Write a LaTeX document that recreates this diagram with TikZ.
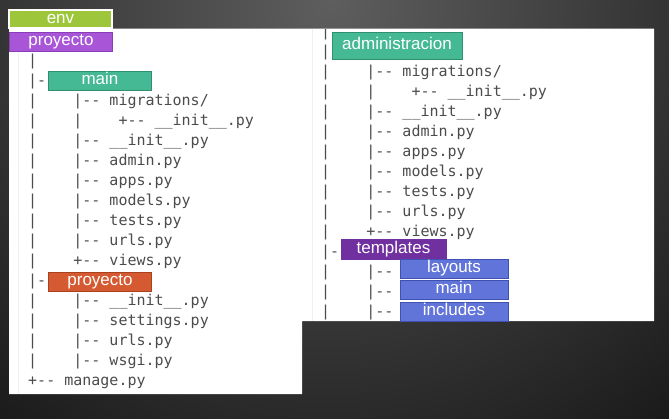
\documentclass[tikz,border=0pt]{standalone}
\usepackage{fontspec}
\setmainfont{Liberation Sans}
\setmonofont{DejaVu Sans Mono}

\definecolor{bgglow}{HTML}{5E5E5E}
\definecolor{bgdark}{HTML}{141414}
\definecolor{treegray}{HTML}{4C4C4C}
\definecolor{envgreen}{HTML}{9DC63B}
\definecolor{lilac}{HTML}{A855D8}
\definecolor{lilacdark}{HTML}{8A3DB8}
\definecolor{teal}{HTML}{45B994}
\definecolor{tealdark}{HTML}{2F9070}
\definecolor{rust}{HTML}{D65A31}
\definecolor{rustdark}{HTML}{A8421F}
\definecolor{grape}{HTML}{7030A0}
\definecolor{blueish}{HTML}{6174D9}
\definecolor{bluedark}{HTML}{3F52B2}

\tikzset{
  tag/.style={inner sep=0pt, text=white, font=\fontsize{17}{17}\selectfont,
    text height=12.3pt, text depth=3.5pt, line width=0.8pt},
  treeline/.style={anchor=west, inner sep=0pt, text=treegray,
    font=\ttfamily\fontsize{15}{15}\selectfont, text height=13pt, text depth=3pt}
}

\begin{document}
\begin{tikzpicture}[x=1pt, y=-1pt]
  \useasboundingbox (0,0) rectangle (669,418);
  % 背景
  \begin{scope}
    \clip (0,0) rectangle (669,418);
    \fill[bgdark] (0,0) rectangle (669,418);
    \shade[inner color=bgglow, outer color=bgdark] (330,0) circle[radius=590pt];
  \end{scope}
  % 两块白色面板
  \fill[white] (9,28.5) -- (654,28.5) -- (654,321) -- (302,321) -- (302,394) -- (9,394) -- cycle;
  \draw[gray!12] (18,51) -- (18,394);
  \draw[gray!12] (312,29) -- (312,321);

  \begin{scope}
    \clip (9,28.5) -- (654,28.5) -- (654,321) -- (302,321) -- (302,394) -- (9,394) -- cycle;
    % 左侧目录树
    \foreach \txt [count=\k from 0] in {|, |--, |~~~~|--~migrations/,
        |~~~~|~~~~+--~\_\_init\_\_.py, |~~~~|--~\_\_init\_\_.py,
        |~~~~|--~admin.py, |~~~~|--~apps.py, |~~~~|--~models.py,
        |~~~~|--~tests.py, |~~~~|--~urls.py, |~~~~+--~views.py, |--,
        |~~~~|--~\_\_init\_\_.py, |~~~~|--~settings.py, |~~~~|--~urls.py,
        |~~~~|--~wsgi.py, +--~manage.py} {
      \node[treeline] (tl\k) at (28,{60+20*\k}) {\txt};
    }
    % 右侧目录树
    \foreach \txt [count=\k from 0] in {|, |-, |~~~~|--~migrations/,
        |~~~~|~~~~+--~\_\_init\_\_.py, |~~~~|--~\_\_init\_\_.py,
        |~~~~|--~admin.py, |~~~~|--~apps.py, |~~~~|--~models.py,
        |~~~~|--~tests.py, |~~~~|--~urls.py, |~~~~+--~views.py, |--,
        |~~~~|--, |~~~~|--, |~~~~|--} {
      \node[treeline] (tr\k) at (321,{31+20*\k}) {\txt};
    }
  \end{scope}

  % 标签
  \node[tag, fill=envgreen, draw=white, line width=1.5pt, minimum width=103pt, minimum height=18pt] (env) at (60.5,19) {env};
  \node[tag, fill=lilac, draw=lilacdark, minimum width=103pt, minimum height=19pt] (proy) at (61,41.5) {proyecto};
  \node[tag, fill=teal, draw=tealdark, minimum width=103pt, minimum height=19pt] (mainapp) at (100,80.5) {main};
  \node[tag, fill=rust, draw=rustdark, minimum width=103pt, minimum height=19pt] (proyapp) at (100,281.5) {proyecto};
  \node[tag, fill=teal, draw=tealdark, minimum width=130pt, minimum height=27pt] (admin) at (397,45.5) {administracion};
  \node[tag, fill=grape, draw=grape, minimum width=105pt, minimum height=20pt] (templ) at (393.5,249) {templates};
  \node[tag, fill=blueish, draw=bluedark, minimum width=108pt, minimum height=19pt] (layouts) at (454,268.5) {layouts};
  \node[tag, fill=blueish, draw=bluedark, minimum width=108pt, minimum height=19pt] (mainb) at (454,289.5) {main};
  \node[tag, fill=blueish, draw=bluedark, minimum width=108pt, minimum height=19pt] (includes) at (454,311.5) {includes};
\end{tikzpicture}
\end{document}
